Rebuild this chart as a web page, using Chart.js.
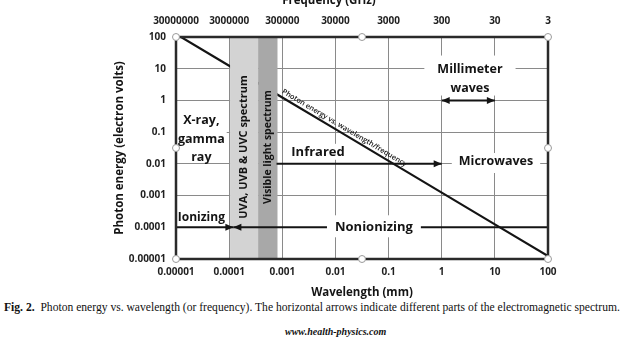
<!DOCTYPE html>
<html lang="en">
<head>
    <meta charset="UTF-8" />
    <title>Photon energy vs. wavelength</title>
    <script src="https://cdn.jsdelivr.net/npm/chart.js"></script>
    <style>
        body { margin: 0; background: #fff; width: 640px; height: 345px; overflow: hidden; position: relative; }
        #wrap { position: absolute; left: 0; top: 0; width: 640px; height: 300px; }
        #caption { position: absolute; left: 4px; top: 301px; font: 11.6px "Liberation Serif", serif; color: #111; white-space: nowrap; }
        #caption b { font-weight: bold; }
        #site { position: absolute; left: 285px; top: 326px; font: italic bold 10px "Liberation Serif", serif; color: #111; white-space: nowrap; }
    </style>
</head>
<body>
<div id="wrap"><canvas id="spectrumChart"></canvas></div>
<div id="caption"><b>Fig. 2.</b>&nbsp; Photon energy vs. wavelength (or frequency). The horizontal arrows indicate different parts of the electromagnetic spectrum.</div>
<div id="site">www.health-physics.com</div>
<script>
    // axis ticks
    const wavelengthTicks = [0.00001, 0.0001, 0.001, 0.01, 0.1, 1, 10, 100];
    const wavelengthLabels = ['0.00001', '0.0001', '0.001', '0.01', '0.1', '1', '10', '100'];
    const frequencyTicks = [30000000, 3000000, 300000, 30000, 3000, 300, 30, 3];
    const frequencyLabels = ['30000000', '3000000', '300000', '30000', '3000', '300', '30', '3'];
    const energyTicks = [0.00001, 0.0001, 0.001, 0.01, 0.1, 1, 10, 100];
    const energyLabels = ['0.00001', '0.0001', '0.001', '0.01', '0.1', '1', '10', '100'];

    // photon energy (eV) against wavelength (mm)
    const lineWavelength = [0.00001, 0.0001, 0.001, 0.01, 0.1, 1, 10, 100];
    const lineEnergy = [124, 12.4, 1.24, 0.124, 0.0124, 0.00124, 0.000124, 0.0000124];

    // shaded spectrum bands (mm)
    const bandLabels = ['UVA, UVB & UVC spectrum', 'Visible light spectrum'];
    const bandFrom = [0.000104, 0.00035];
    const bandTo = [0.00035, 0.00082];

    // horizontal arrows
    const arrowLabels = ['Ionizing', 'Nonionizing', 'Infrared', 'Millimeter waves'];
    const arrowFrom = [0.00001, 100, 0.00078, 1];
    const arrowTo = [0.00012, 0.00012, 1, 10];
    const arrowEnergy = [0.0001, 0.0001, 0.01, 1];
    const arrowBoth = [false, false, false, true];

    const ink = '#141414';
    const bandColors = ['#d3d3d3', '#a8a8a8'];
    const tickFont = { family: '"Open Sans", sans-serif', size: 10, weight: 'bold' };
    const titleFont = { family: '"Open Sans", sans-serif', size: 11.5, weight: 'bold' };

    // text placed on the plot (data coordinates of the block centre)
    const notes = [
        { lines: ['X-ray,', 'gamma', 'ray'], at: [0.00003, 0.06], size: 12.5, lh: 18.5, box: [2, -2, -14] },
        { lines: ['Ionizing'], at: [0.00003, 0.0002], size: 12, lh: 16 },
        { lines: ['Infrared'], at: [0.0047, 0.024], size: 13, lh: 16, box: [3, 0, 0] },
        { lines: ['Microwaves'], at: [10.5, 0.0123], size: 12.5, lh: 16, box: [7, 0, 4] },
        { lines: ['Nonionizing'], at: [0.053, 0.0001], size: 13, lh: 16, box: [8, 4, 2] },
        { lines: ['Millimeter', 'waves'], at: [3.4, 4.9], size: 12.5, lh: 19, box: [13, 4, -2] }
    ];

    function head(ctx, x, y, dir) {
        ctx.beginPath();
        ctx.moveTo(x, y);
        ctx.lineTo(x - dir * 8, y - 3.5);
        ctx.lineTo(x - dir * 8, y + 3.5);
        ctx.closePath();
        ctx.fill();
    }

    const decor = {
        id: 'decor',
        afterDatasetsDraw(chart) {
            const { ctx, chartArea: a, scales: { x, y } } = chart;
            ctx.save();
            ctx.fillStyle = ink;

            // arrow heads
            arrowLabels.forEach((name, i) => {
                const py = y.getPixelForValue(arrowEnergy[i]);
                const x0 = x.getPixelForValue(arrowFrom[i]);
                const x1 = x.getPixelForValue(arrowTo[i]);
                const dir = x1 > x0 ? 1 : -1;
                head(ctx, x1, py, dir);
                if (arrowBoth[i]) head(ctx, x0, py, -dir);
            });

            // labels, some on a white backing
            ctx.textAlign = 'center';
            ctx.textBaseline = 'middle';
            notes.forEach(n => {
                ctx.font = 'bold ' + n.size + 'px "Open Sans", sans-serif';
                const cx = x.getPixelForValue(n.at[0]);
                const cy = y.getPixelForValue(n.at[1]);
                const h = n.lines.length * n.lh;
                const top = cy - h / 2;
                if (n.box) {
                    const w = Math.max(...n.lines.map(t => ctx.measureText(t).width));
                    ctx.fillStyle = '#fff';
                    ctx.fillRect(cx - w / 2 - n.box[0], top - n.box[1], w + 2 * n.box[0], h + n.box[1] + n.box[2]);
                }
                ctx.fillStyle = ink;
                n.lines.forEach((t, k) => ctx.fillText(t, cx, top + n.lh * (k + 0.5)));
            });

            // band names, written upwards inside each band
            bandLabels.forEach((t, i) => {
                const cx = Math.sqrt(bandFrom[i] * bandTo[i]);
                ctx.save();
                ctx.translate(x.getPixelForValue(cx), y.getPixelForValue(0.034));
                ctx.rotate(-Math.PI / 2);
                ctx.font = 'bold ' + (i === 0 ? 11 : 10.5) + 'px "Open Sans", sans-serif';
                ctx.fillText(t, 0, 0);
                ctx.restore();
            });

            // label running along the energy line
            const pts = chart.getDatasetMeta(0).data;
            const p1 = pts[2], p2 = pts[5];
            const ang = Math.atan2(p2.y - p1.y, p2.x - p1.x);
            const sx = x.getPixelForValue(bandTo[1]) + 2;
            const sy = p1.y + (sx - p1.x) * Math.tan(ang);
            ctx.save();
            ctx.translate(sx, sy);
            ctx.rotate(ang);
            ctx.textAlign = 'left';
            ctx.textBaseline = 'bottom';
            ctx.font = '600 7.3px "Open Sans", sans-serif';
            ctx.fillText('Photon energy vs. wavelength/frequency', 0, -2);
            ctx.restore();

            // frame
            ctx.strokeStyle = '#2a2a2a';
            ctx.lineWidth = 2.5;
            ctx.strokeRect(a.left, a.top, a.right - a.left, a.bottom - a.top);

            // top axis title, cut by the page edge
            ctx.font = 'bold 11.5px "Open Sans", sans-serif';
            ctx.textAlign = 'center';
            ctx.textBaseline = 'middle';
            ctx.fillText('Frequency (GHz)', (a.left + a.right) / 2 - 33, 1);

            // corner and edge handles
            const mx = (a.left + a.right) / 2, my = (a.top + a.bottom) / 2;
            [[a.left, a.top], [mx, a.top], [a.right, a.top], [a.right, my],
             [a.right, a.bottom], [mx, a.bottom], [a.left, a.bottom], [a.left, my]].forEach(([hx, hy]) => {
                ctx.beginPath();
                ctx.arc(hx, hy, 3.5, 0, Math.PI * 2);
                ctx.fillStyle = '#fff';
                ctx.fill();
                ctx.lineWidth = 1;
                ctx.strokeStyle = '#9a9a9a';
                ctx.stroke();
            });
            ctx.restore();
        }
    };

    const datasets = [{
        data: lineWavelength.map((w, i) => ({ x: w, y: lineEnergy[i] })),
        borderColor: ink, borderWidth: 2.2, pointRadius: 0, order: 3
    }];
    bandLabels.forEach((t, i) => datasets.push({
        data: [{ x: bandFrom[i], y: 100 }, { x: bandTo[i], y: 100 }],
        fill: 'start', backgroundColor: bandColors[i], borderWidth: 0, pointRadius: 0, order: 2
    }));
    arrowLabels.forEach((t, i) => datasets.push({
        data: [{ x: arrowFrom[i], y: arrowEnergy[i] }, { x: arrowTo[i], y: arrowEnergy[i] }],
        borderColor: ink, borderWidth: 2, pointRadius: 0, order: 1
    }));

    new Chart(document.getElementById('spectrumChart'), {
        type: 'line',
        data: { datasets },
        options: {
            responsive: true,
            maintainAspectRatio: false,
            animation: false,
            layout: { padding: { left: 112, right: 92, top: 0, bottom: 0 } },
            plugins: { legend: { display: false }, tooltip: { enabled: false } },
            scales: {
                x: {
                    type: 'logarithmic', position: 'bottom', min: 0.00001, max: 100,
                    afterBuildTicks: s => { s.ticks = wavelengthTicks.map(v => ({ value: v })); },
                    afterFit: s => { s.height = 41; },
                    ticks: { callback: (v, i) => wavelengthLabels[i], font: tickFont, color: '#1f1f1f', padding: 7, autoSkip: false, maxRotation: 0 },
                    grid: { color: '#8a8a8a', lineWidth: 1, drawTicks: false },
                    border: { display: false },
                    title: { display: true, text: 'Wavelength (mm)', font: titleFont, color: ink, padding: { top: 0, bottom: 0.5 } }
                },
                x2: {
                    type: 'logarithmic', position: 'top', reverse: true, min: 3, max: 30000000,
                    afterBuildTicks: s => { s.ticks = frequencyTicks.map(v => ({ value: v })); },
                    afterFit: s => { s.height = 37; },
                    ticks: { callback: (v, i) => frequencyLabels[i], font: tickFont, color: '#1f1f1f', padding: 10, autoSkip: false, maxRotation: 0 },
                    grid: { display: false, drawTicks: false },
                    border: { display: false }
                },
                y: {
                    type: 'logarithmic', min: 0.00001, max: 100,
                    afterBuildTicks: s => { s.ticks = energyTicks.map(v => ({ value: v })); },
                    afterFit: s => { s.width = 64; },
                    ticks: { callback: (v, i) => energyLabels[i], font: tickFont, color: '#1f1f1f', padding: 10, autoSkip: false },
                    grid: { color: '#8a8a8a', lineWidth: 1, drawTicks: false },
                    border: { display: false },
                    title: { display: true, text: 'Photon energy (electron volts)', font: titleFont, color: ink, padding: { top: 1, bottom: 0 } }
                }
            }
        },
        plugins: [decor]
    });
</script>
</body>
</html>
